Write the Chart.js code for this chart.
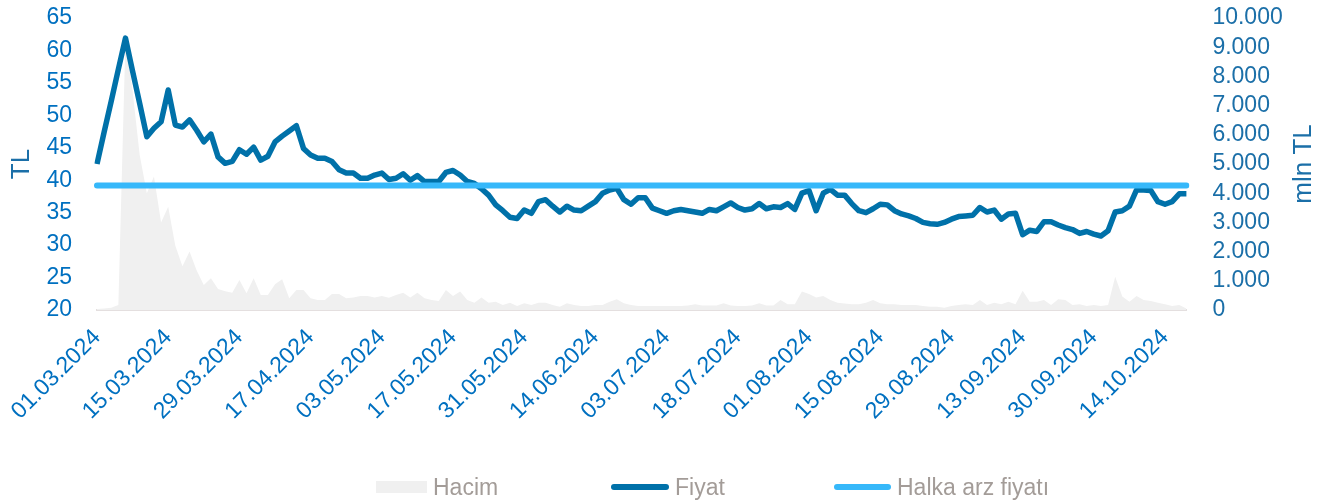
<!DOCTYPE html>
<html>
<head>
<meta charset="utf-8">
<script src="https://cdn.jsdelivr.net/npm/chart.js@4.4.1/dist/chart.umd.min.js"></script>
<style>
body{margin:0;background:#fff}
#wrap{position:relative;width:1327px;height:502px}
#legend{position:absolute;left:0;top:473px;width:1327px;height:28px;font:23px 'Liberation Sans',Arial,sans-serif;color:#a39c98}
.item{position:absolute;top:0;height:28px;display:flex;align-items:center}
.sym{display:inline-block;margin-right:6px}
</style>
</head>
<body>
<div id="wrap">
<canvas id="chart" width="1327" height="502"></canvas>
<div id="legend"></div>
</div>
<script>
// x ekseni etiketleri (her 10 işlem gününde bir)
var tickLabels = ["01.03.2024","15.03.2024","29.03.2024","17.04.2024","03.05.2024","17.05.2024","31.05.2024","14.06.2024",
  "03.07.2024","18.07.2024","01.08.2024","15.08.2024","29.08.2024","13.09.2024","30.09.2024","14.10.2024"];

// Fiyat (TL)
var fiyat = [42.5,47.4,52.2,57.1,61.9,56.8,51.8,46.7,48.0,49.0,
  53.9,48.5,48.2,49.3,47.7,45.9,47.1,43.6,42.6,42.9,
  44.7,44.0,45.1,43.1,43.7,45.9,46.8,47.6,48.4,44.9,
  43.9,43.4,43.4,42.9,41.6,41.1,41.1,40.3,40.3,40.8,
  41.1,40.1,40.3,41.0,40.0,40.7,39.8,39.8,39.8,41.2,
  41.5,40.8,39.8,39.5,38.7,37.7,36.2,35.3,34.3,34.1,
  35.4,34.9,36.7,37.0,36.0,35.1,36.0,35.4,35.3,36.0,
  36.7,38.0,38.5,38.75,37.0,36.3,37.3,37.3,35.7,35.3,
  34.9,35.3,35.5,35.3,35.1,34.9,35.5,35.3,35.9,36.5,
  35.8,35.4,35.6,36.4,35.6,35.9,35.8,36.4,35.5,38.0,
  38.4,35.3,38.0,38.6,37.7,37.7,36.4,35.3,35.0,35.6,
  36.3,36.2,35.3,34.8,34.5,34.1,33.5,33.3,33.2,33.5,
  34.0,34.4,34.5,34.6,35.8,35.1,35.4,34.0,34.8,34.9,
  31.6,32.3,32.1,33.6,33.6,33.1,32.7,32.4,31.8,32.1,
  31.7,31.4,32.2,35.1,35.3,36.0,38.5,38.5,38.4,36.7,
  36.3,36.7,37.9,37.9];

// Hacim (mln TL)
var hacim = [30,50,80,170,9300,7500,5300,4000,4570,3000,
  3540,2200,1500,2000,1350,860,1090,720,640,590,
  1030,570,1090,510,510,880,1050,400,685,685,
  400,340,340,550,550,400,430,480,480,430,
  480,420,510,590,430,590,400,340,310,685,
  480,630,340,250,430,250,280,170,250,140,
  230,170,250,250,170,110,230,170,140,140,
  170,170,285,365,230,170,140,140,140,140,
  140,140,140,150,200,150,150,150,230,150,
  140,140,150,230,150,150,340,200,200,630,
  550,430,480,340,250,220,200,200,250,340,
  230,200,200,170,170,170,140,110,110,80,
  140,170,200,170,340,170,250,200,280,200,
  660,280,280,340,170,365,340,170,200,140,
  170,140,170,1140,460,280,480,340,310,250,
  200,140,170,50];

var halkaArzFiyati = 39.2;

var labels = fiyat.map(function(v, i){ return i % 10 === 0 ? tickLabels[i / 10] : ""; });

var font = "'Liberation Sans', Arial, sans-serif";
var blue = "#0070c0";
var blue2 = "#1b6fa8";

function dotted(v){ return String(v).replace(/\B(?=(\d{3})+(?!\d))/g, "."); }

var rightTitle = {
  id: "rightTitle",
  afterDraw: function(chart){
    var ctx = chart.ctx, a = chart.chartArea;
    ctx.save();
    ctx.translate(1304, (a.top + a.bottom) / 2);
    ctx.rotate(-Math.PI / 2);
    ctx.font = "26px " + font;
    ctx.fillStyle = blue2;
    ctx.textAlign = "center";
    ctx.textBaseline = "middle";
    ctx.fillText("mln TL", 0, 0);
    ctx.restore();
  }
};

var chart = new Chart("chart", {
  type: "line",
  data: {
    labels: labels,
    datasets: [{
      label: "Hacim",
      data: hacim,
      yAxisID: "y1",
      fill: "origin",
      backgroundColor: "#f0f0f0",
      borderWidth: 0,
      pointRadius: 0,
      order: 3
    }, {
      label: "Fiyat",
      data: fiyat,
      yAxisID: "y",
      borderColor: "#0071a9",
      borderWidth: 5.5,
      borderJoinStyle: "round",
      pointRadius: 0,
      fill: false,
      order: 2
    }, {
      label: "Halka arz fiyatı",
      data: fiyat.map(function(){ return halkaArzFiyati; }),
      yAxisID: "y",
      borderColor: "#36b8fa",
      borderWidth: 6,
      borderCapStyle: "round",
      pointRadius: 0,
      fill: false,
      order: 1
    }]
  },
  options: {
    responsive: false,
    animation: false,
    devicePixelRatio: 1,
    layout: {padding: {top: 18, left: 0, right: 0, bottom: 0}},
    plugins: {legend: {display: false}, tooltip: {enabled: false}},
    scales: {
      x: {
        grid: {display: false, drawTicks: false},
        border: {display: true, color: "#e4dfdf", width: 2},
        ticks: {autoSkip: false, maxRotation: 45, minRotation: 45, padding: 14,
          color: blue, font: {family: font, size: 23}},
        afterFit: function(s){ s.height = 192; }
      },
      y: {
        position: "left",
        min: 20, max: 65,
        grid: {display: false, drawTicks: true, tickLength: 25},
        border: {display: false},
        ticks: {stepSize: 5, autoSkip: false, padding: 0, color: blue, font: {family: font, size: 23}},
        title: {display: true, text: "TL", color: blue2, font: {family: font, size: 26}, padding: {top: 6, bottom: 0}},
        afterFit: function(s){ s.width = 97; }
      },
      y1: {
        position: "right",
        min: 0, max: 10000,
        grid: {display: false, drawTicks: true, tickLength: 26},
        border: {display: false},
        ticks: {stepSize: 1000, autoSkip: false, padding: 0, color: blue2, font: {family: font, size: 23},
          callback: function(v){ return dotted(v); }},
        afterFit: function(s){ s.width = 140.6; }
      }
    }
  },
  plugins: [rightTitle]
});

// lejant
var legendItems = [
  {text: "Hacim", left: 376, sym: "width:51px;height:12px;background:#f0f0f0"},
  {text: "Fiyat", left: 611, sym: "width:58px;height:6px;border-radius:3px;background:#0071a9"},
  {text: "Halka arz fiyatı", left: 834, sym: "width:57px;height:6px;border-radius:3px;background:#36b8fa"}
];
var lg = document.getElementById("legend");
legendItems.forEach(function(it){
  var d = document.createElement("div");
  d.className = "item";
  d.style.left = it.left + "px";
  var s = document.createElement("span");
  s.className = "sym";
  s.style.cssText = it.sym;
  d.appendChild(s);
  d.appendChild(document.createTextNode(it.text));
  lg.appendChild(d);
});
</script>
</body>
</html>
